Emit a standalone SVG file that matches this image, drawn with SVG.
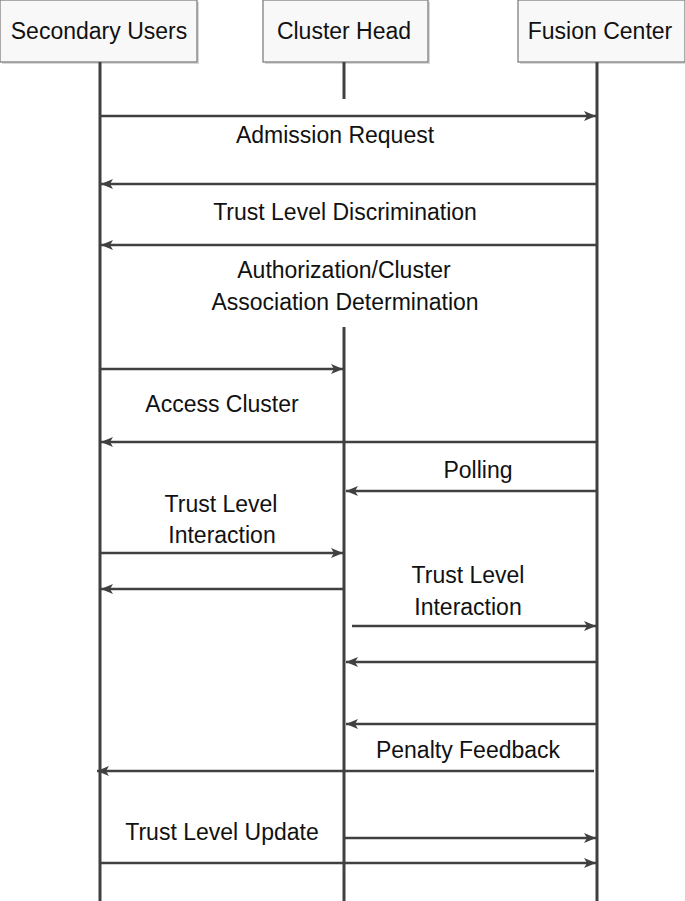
<svg xmlns="http://www.w3.org/2000/svg" width="685" height="901" viewBox="0 0 685 901">
<style>
.box{fill:#f8f8f8;stroke:#808080;stroke-width:1.3}
.shadow{fill:#d9d9d9}
.life{stroke:#404040;stroke-width:3;fill:none}
.msg{stroke:#404040;stroke-width:2.6;fill:none;marker-end:url(#ah)}
text{font-family:"Liberation Sans",Arial,sans-serif;font-size:23px;fill:#111;text-anchor:middle}
</style>
<defs>
<marker id="ah" markerUnits="userSpaceOnUse" markerWidth="14" markerHeight="12" refX="12" refY="5" orient="auto">
<path d="M0,0 L12,5 L0,10 L3,5 z" fill="#404040"/>
</marker>
</defs>
<rect width="685" height="901" fill="#fff"/>
<g id="secondary-users">
<rect class="shadow" x="2" y="2" width="197" height="62"/>
<rect class="box" x="0" y="0" width="197" height="62"/>
<text x="99" y="39">Secondary Users</text>
<line class="life" x1="100" y1="62" x2="100" y2="901"/>
</g>
<g id="cluster-head">
<rect class="shadow" x="265" y="2" width="165" height="62"/>
<rect class="box" x="263" y="0" width="165" height="62"/>
<text x="344" y="39">Cluster Head</text>
<line class="life" x1="344" y1="62" x2="344" y2="99"/>
<line class="life" x1="344" y1="327" x2="344" y2="901"/>
</g>
<g id="fusion-center">
<rect class="shadow" x="520" y="2" width="167" height="62"/>
<rect class="box" x="518" y="0" width="167" height="62"/>
<text x="600" y="39">Fusion Center</text>
<line class="life" x1="597" y1="62" x2="597" y2="901"/>
</g>
<g id="connectors">
<line class="msg" x1="100" y1="116" x2="596" y2="116"/>
<line class="msg" x1="597" y1="184" x2="101" y2="184"/>
<line class="msg" x1="597" y1="245" x2="101" y2="245"/>
<line class="msg" x1="100" y1="369" x2="343" y2="369"/>
<line class="msg" x1="597" y1="442" x2="101" y2="442"/>
<line class="msg" x1="597" y1="491" x2="346" y2="491"/>
<line class="msg" x1="100" y1="553" x2="343" y2="553"/>
<line class="msg" x1="344" y1="589" x2="101" y2="589"/>
<line class="msg" x1="352" y1="626" x2="596" y2="626"/>
<line class="msg" x1="597" y1="662" x2="346" y2="662"/>
<line class="msg" x1="597" y1="724" x2="346" y2="724"/>
<line class="msg" x1="594" y1="771" x2="97" y2="771"/>
<line class="msg" x1="344" y1="838" x2="596" y2="838"/>
<line class="msg" x1="100" y1="863" x2="596" y2="863"/>
</g>
<g id="labels">
<text x="335" y="143">Admission Request</text>
<text x="345" y="220">Trust Level Discrimination</text>
<text x="344" y="278">Authorization/Cluster</text>
<text x="345" y="310">Association Determination</text>
<text x="222" y="412">Access Cluster</text>
<text x="478" y="478">Polling</text>
<text x="221" y="512">Trust Level</text>
<text x="222" y="543">Interaction</text>
<text x="468" y="583">Trust Level</text>
<text x="468" y="615">Interaction</text>
<text x="468" y="758">Penalty Feedback</text>
<text x="222" y="840">Trust Level Update</text>
</g>
</svg>
